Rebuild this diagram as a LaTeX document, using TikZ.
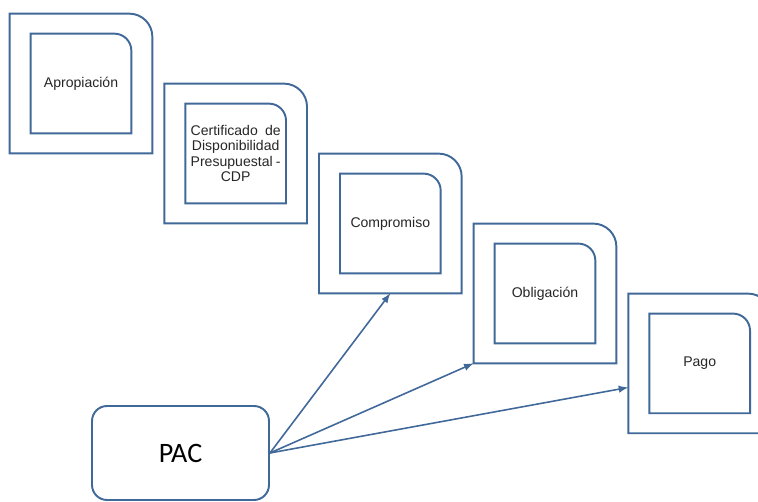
\documentclass[tikz,border=0pt]{standalone}
\usepackage{fontspec}
\setmainfont{Liberation Sans}
\newfontfamily\pacfont{Carlito}
\definecolor{marcoAzul}{RGB}{64,104,152}
\usetikzlibrary{calc,positioning}

\begin{document}
\begin{tikzpicture}[x=0.02cm,y=0.02cm,node distance=0.24cm,
    etapa/.style={minimum width=2.84cm, minimum height=2.78cm, inner sep=0pt},
    interior/.style={minimum width=2cm, minimum height=1.98cm, inner sep=0pt, text width=1.8cm, align=center,
      font=\fontsize{8}{8.8}\selectfont, text=black!85},
    marco/.style={draw=marcoAzul, line width=1.1pt},
    flecha/.style={draw=marcoAzul, line width=0.9pt, -latex},
    ]
    \useasboundingbox (0,0) rectangle (758,-502);

    \node[etapa] (apro) at (81,-83.5) {};
    \node[etapa, right=of apro, yshift=-1.4cm] (cdp) {};
    \node[etapa, right=of cdp, yshift=-1.4cm] (comp) {};
    \node[etapa, right=of comp, yshift=-1.4cm] (oblig) {};
    \node[etapa, right=of oblig, yshift=-1.4cm] (pago) {};

    \node[interior] (aproIn) at (apro) {Apropiación};
    \node[interior] (cdpIn) at (cdp) {Certificado\hfill de\\ Disponibilidad\\ Presupuestal\hfill -\\ CDP};
    \node[interior] (compIn) at (comp) {Compromiso};
    \node[interior] (obligIn) at (oblig) {Obligación};
    \node[interior] (pagoIn) at (pago) {Pago};

    \foreach \n/\r in {apro/0.46cm,cdp/0.46cm,comp/0.46cm,oblig/0.46cm,pago/0.46cm,
      aproIn/0.34cm,cdpIn/0.34cm,compIn/0.34cm,obligIn/0.34cm,pagoIn/0.34cm}
      \draw[marco] (\n.south west) |- ($(\n.north east)+(-\r,0)$) arc[start angle=90,end angle=0,radius=\r] -- (\n.south east) -- cycle;

    \node[marco, rounded corners=0.3cm, minimum width=3.54cm, minimum height=1.88cm, font=\pacfont\fontsize{16}{18}\selectfont] (pac) at (180.5,-453) {PAC};

    \draw[flecha] (pac.east) -- (comp.south);
    \draw[flecha] (pac.east) -- (oblig.south west);
    \draw[flecha] (pac.east) -- ([yshift=-0.48cm]pago.west);
\end{tikzpicture}
\end{document}
